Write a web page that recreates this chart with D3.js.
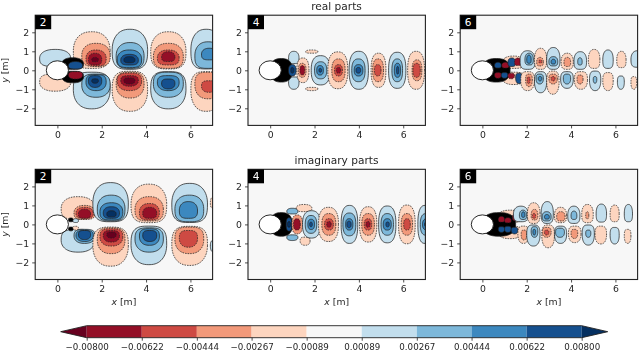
<!DOCTYPE html>
<html>
<head>
<meta charset="utf-8">
<script src="https://cdn.jsdelivr.net/npm/d3@7"></script>
<style>
  html, body { margin: 0; padding: 0; background: #fff; }
  svg { display: block; filter: blur(0.5px); }
  text { font-family: "DejaVu Sans", sans-serif; fill: #262626; }
</style>
</head>
<body>
<div id="chart"></div>
<script>
const LEVELS = [-0.008, -0.00622, -0.00444, -0.00267, -0.00089, 0.00089, 0.00267, 0.00444, 0.00622, 0.008];
const LEVEL_LABELS = ["−0.00800", "−0.00622", "−0.00444", "−0.00267", "−0.00089", "0.00089", "0.00267", "0.00444", "0.00622", "0.00800"];
const BAND_COLORS = ["#940f27", "#ce4a43", "#f2997a", "#fdd5bf", "#f7f7f7", "#c2deed", "#7db8da", "#3c88bf", "#15508f"];
const EXTEND_COLORS = ["#67001f", "#053061"];
const REDS = ["#fdd5bf", "#f2997a", "#ce4a43", "#940f27", "#67001f"];
const BLUES = ["#c2deed", "#7db8da", "#3c88bf", "#15508f", "#053061"];
const X_TICKS = [0, 2, 4, 6];
const Y_TICKS = [-2, -1, 0, 1, 2];

// contour rings: [signed level, xMin, xMax, yMin, yMax]
// negative level = red, positive = blue, 0 = the black mess of tight contours
const REAL_2_TOP = [
  [1, -0.8, 0.6, 0.2, 1.1],
  [-1, 0.72, 2.38, 0.1, 2.03], [-2, 1.1, 2.38, 0.2, 1.42], [-3, 1.29, 2.2, 0.23, 1.07], [-4, 1.4, 2, 0.28, 0.9], [-5, 1.55, 1.85, 0.45, 0.68],
  [1, 2.47, 4.07, 0.05, 2.16], [2, 2.65, 3.91, 0.1, 1.46], [3, 2.7, 3.8, 0.14, 1.07], [4, 2.86, 3.65, 0.28, 0.84], [5, 3, 3.5, 0.4, 0.72],
  [-1, 4.21, 5.8, 0.07, 2.03], [-2, 4.33, 5.68, 0.1, 1.42], [-3, 4.51, 5.49, 0.28, 1.07], [-4, 4.7, 5.3, 0.46, 0.98],
  [1, 6.02, 7.4, 0.07, 2.16], [2, 6.2, 7.4, 0.1, 1.5], [3, 6.5, 7.2, 0.55, 1.16],
  [0, 0.2, 1.18, 0.05, 0.66], [4, 0.5, 1.14, 0.07, 0.46]
];
const REAL_4 = [
  [1, 0.83, 1.3, 0.35, 1], [1, 0.83, 1.3, -1, -0.35],
  [0, 0, 1, -0.62, 0.62],
  [4, 0.83, 1.17, -0.3, 0.3], [5, 0.93, 1.07, -0.15, 0.15],
  [-1, 1.2, 1.75, -0.65, 0.65], [-2, 1.27, 1.62, -0.37, 0.37], [-4, 1.34, 1.56, -0.25, 0.25],
  [-1, 1.6, 2.15, 0.9, 1.07], [-1, 1.6, 2.15, -1.07, -0.9],
  [1, 1.85, 2.7, -0.77, 0.77], [2, 2, 2.55, -0.45, 0.45], [3, 2.1, 2.4, -0.25, 0.25], [4, 2.2, 2.32, -0.1, 0.1],
  [-1, 2.6, 3.5, -0.97, 0.97], [-2, 2.78, 3.38, -0.6, 0.6], [-3, 2.9, 3.26, -0.3, 0.3], [-4, 2.98, 3.18, -0.15, 0.15],
  [1, 3.56, 4.43, -1, 1], [2, 3.68, 4.28, -0.6, 0.6], [3, 3.79, 4.18, -0.3, 0.3], [4, 3.87, 4.08, -0.15, 0.15],
  [-1, 4.55, 5.22, -0.9, 0.9], [-2, 4.62, 5.11, -0.6, 0.6], [-3, 4.7, 5, -0.3, 0.3],
  [1, 5.34, 6.12, -0.95, 0.95], [2, 5.49, 5.97, -0.6, 0.6], [3, 5.6, 5.88, -0.37, 0.37], [4, 5.7, 5.8, -0.2, 0.2],
  [-1, 6.2, 6.96, -1, 1], [-2, 6.4, 6.84, -0.55, 0.55], [-3, 6.44, 6.77, -0.37, 0.37]
];
const REAL_6 = [
  [-1, 0.9, 1.9, 0.1, 0.75], [-1, 0.9, 1.9, -0.75, -0.1],
  [0, 0, 1.25, -0.62, 0.62],
  [4, 0.55, 0.85, 0.12, 0.42], [-4, 0.88, 1.2, 0.12, 0.42], [4, 1.15, 1.5, 0.2, 0.65], [-4, 1.45, 1.75, 0.25, 0.65],
  [-4, 0.55, 0.85, -0.42, -0.12], [4, 0.85, 1.15, -0.42, -0.12], [-4, 1.15, 1.45, -0.45, -0.15], [4, 1.5, 1.8, -0.7, -0.15],
  [1, 1.7, 2.38, 0.05, 1.03], [2, 1.92, 2.3, 0.28, 0.9], [3, 2, 2.2, 0.37, 0.8],
  [-1, 2.35, 2.9, 0.05, 1.16], [-2, 2.45, 2.75, 0.23, 0.68], [-3, 2.55, 2.68, 0.38, 0.55],
  [1, 2.9, 3.5, 0.05, 1.2], [2, 3, 3.4, 0.23, 0.72], [3, 3.1, 3.3, 0.33, 0.58],
  [-1, 3.55, 4.1, 0.05, 0.9], [-2, 3.68, 3.98, 0.2, 0.68],
  [1, 4.13, 4.7, 0.05, 0.98], [2, 4.3, 4.5, 0.28, 0.66],
  [-1, 4.78, 5.3, 0.1, 1.1], [1, 5.43, 5.9, 0.1, 1.07], [-1, 6.06, 6.48, 0.14, 1], [1, 6.7, 7.3, 0.16, 1.03],
  [-1, 1.73, 2.35, -1.07, -0.07], [-2, 1.95, 2.25, -0.86, -0.2], [-3, 2.02, 2.15, -0.7, -0.35],
  [1, 2.35, 2.9, -1.18, -0.07], [2, 2.42, 2.75, -0.72, -0.2], [3, 2.52, 2.68, -0.56, -0.33],
  [-1, 2.9, 3.46, -1.26, -0.04], [-2, 3, 3.38, -0.72, -0.2], [-3, 3.1, 3.28, -0.56, -0.33],
  [1, 3.53, 4.1, -0.95, -0.07], [2, 3.65, 3.98, -0.72, -0.2],
  [-1, 4.15, 4.74, -1, -0.07], [-2, 4.27, 4.54, -0.72, -0.25],
  [1, 4.83, 5.34, -1.07, -0.04], [2, 5, 5.16, -0.68, -0.33],
  [-1, 5.43, 5.9, -1.07, -0.12], [1, 6.09, 6.4, -1, -0.3], [-1, 6.7, 6.96, -1, -0.33]
];
const IMAG_2_TOP = [
  [-1, 0.17, 1.7, 0.26, 1.46], [-2, 0.75, 1.7, 0.26, 1], [-3, 0.84, 1.62, 0.32, 0.9], [-4, 0.95, 1.5, 0.32, 0.8],
  [1, 1.6, 3.2, 0.14, 2.2], [2, 1.8, 3.05, 0.18, 1.54], [3, 1.92, 2.95, 0.23, 1.14], [4, 2.07, 2.8, 0.32, 0.93], [5, 2.23, 2.65, 0.4, 0.72],
  [-1, 3.32, 4.93, 0.09, 2.12], [-2, 3.5, 4.78, 0.18, 1.46], [-3, 3.7, 4.6, 0.23, 1.1], [-4, 3.85, 4.48, 0.32, 0.9],
  [1, 5.16, 6.77, 0.1, 2.16], [2, 5.3, 6.6, 0.14, 1.54], [3, 5.5, 6.32, 0.32, 1.2],
  [-1, 6.9, 7.2, 0.85, 1.46],
  [0, 0.5, 0.72, 0.14, 0.34], [1, 0.7, 0.95, 0.1, 0.3]
];
const IMAG_4 = [
  [-1, 1.17, 1.88, 0.67, 1.05], [-1, 1.35, 1.8, -1.1, -0.67],
  [2, 0.75, 1.25, 0.55, 0.85], [2, 0.75, 1.25, -0.85, -0.55],
  [0, 0, 1, -0.62, 0.62],
  [4, 0.72, 0.98, -0.35, 0.35], [5, 0.78, 0.92, -0.15, 0.15],
  [-2, 0.98, 1.46, -0.5, 0.5], [-4, 1.05, 1.36, -0.3, 0.3],
  [1, 1.46, 2.26, -0.72, 0.72], [2, 1.58, 2.1, -0.47, 0.47], [3, 1.7, 2, -0.27, 0.27], [4, 1.78, 1.9, -0.12, 0.12],
  [-1, 2.18, 3.08, -0.9, 0.9], [-2, 2.33, 2.96, -0.57, 0.57], [-3, 2.45, 2.85, -0.3, 0.3], [-4, 2.55, 2.75, -0.15, 0.15],
  [1, 3.2, 3.95, -1, 1], [2, 3.28, 3.86, -0.6, 0.6], [3, 3.4, 3.73, -0.3, 0.3], [4, 3.46, 3.65, -0.17, 0.17],
  [-1, 4.03, 4.81, -0.93, 0.93], [-2, 4.13, 4.7, -0.57, 0.57], [-3, 4.24, 4.58, -0.3, 0.3], [-4, 4.32, 4.5, -0.15, 0.15],
  [1, 4.89, 5.67, -0.97, 0.97], [2, 5, 5.56, -0.57, 0.57], [3, 5.1, 5.46, -0.3, 0.3], [4, 5.22, 5.37, -0.13, 0.13],
  [-1, 5.79, 6.54, -1.02, 1.02], [-2, 5.91, 6.42, -0.57, 0.57], [-3, 6.02, 6.32, -0.3, 0.3],
  [1, 6.66, 7.3, -1, 1], [2, 6.77, 7.3, -0.57, 0.57], [3, 6.87, 7.3, -0.3, 0.3], [4, 6.96, 7.3, -0.15, 0.15]
];
const IMAG_6 = [
  [-1, 0.7, 1.8, 0.1, 0.75], [-1, 0.7, 1.8, -0.75, -0.1],
  [0, 0, 1.5, -0.62, 0.62],
  [-4, 0.72, 1, 0.12, 0.42], [-4, 1, 1.3, 0.08, 0.35], [-4, 1.35, 1.65, 0.2, 0.55],
  [4, 0.72, 1, -0.42, -0.12], [4, 1, 1.3, -0.42, -0.1], [4, 1.3, 1.6, -0.5, -0.15],
  [1, 1.4, 2.07, 0.14, 0.96], [2, 1.67, 2, 0.26, 0.75], [3, 1.77, 1.92, 0.37, 0.66],
  [-1, 2.03, 2.6, 0.05, 1.14], [-2, 2.2, 2.5, 0.23, 0.79], [-3, 2.26, 2.4, 0.32, 0.58],
  [1, 2.65, 3.2, 0.05, 1.2], [2, 2.7, 3.1, 0.18, 0.67], [3, 2.8, 3.02, 0.28, 0.52],
  [-1, 3.25, 3.8, 0.09, 0.9], [-2, 3.35, 3.73, 0.18, 0.67],
  [1, 3.85, 4.4, 0.05, 0.96], [2, 4, 4.26, 0.26, 0.7],
  [-1, 4.48, 5, 0.09, 1.05], [-2, 4.66, 4.8, 0.3, 0.67],
  [1, 5.13, 5.6, 0.12, 1.07], [-1, 5.76, 6.17, 0.14, 1.02], [1, 6.4, 6.77, 0.14, 1.05],
  [-1, 1.6, 2.1, -1, -0.09], [-2, 1.75, 2, -0.82, -0.3],
  [1, 2, 2.6, -1.14, -0.03], [2, 2.2, 2.5, -0.68, -0.12], [3, 2.28, 2.4, -0.56, -0.26],
  [-1, 2.68, 3.25, -1.23, -0.03], [-2, 2.7, 3.1, -0.68, -0.16], [-3, 2.8, 3, -0.56, -0.3],
  [1, 3.25, 3.8, -1, -0.09], [2, 3.3, 3.7, -0.68, -0.2],
  [-1, 3.88, 4.45, -0.96, -0.09], [-2, 4, 4.3, -0.74, -0.26],
  [1, 4.5, 5.05, -1.09, -0.03], [2, 4.66, 4.89, -0.68, -0.3],
  [-1, 5.08, 5.6, -1.03, -0.09], [1, 5.76, 6.17, -1.03, -0.16], [-1, 6.4, 6.7, -1, -0.26]
];

// the two mode-2 panels are antisymmetric about y = 0, so only the top half is listed
function withMirror(rings) {
  const flipped = rings.map(([l, x0, x1, y0, y1]) => [l === 0 ? 0 : -l, x0, x1, -y1, -y0]);
  return rings.concat(flipped);
}

const PANELS = [
  { mode: 2, left: 35.2, top: 15.2, rings: withMirror(REAL_2_TOP), yLabel: true, xLabel: false },
  { mode: 4, left: 248, top: 15.2, rings: REAL_4, yLabel: false, xLabel: false },
  { mode: 6, left: 460.2, top: 15.2, rings: REAL_6, yLabel: false, xLabel: false },
  { mode: 2, left: 35.2, top: 169.3, rings: withMirror(IMAG_2_TOP), yLabel: true, xLabel: true },
  { mode: 4, left: 248, top: 169.3, rings: IMAG_4, yLabel: false, xLabel: true },
  { mode: 6, left: 460.2, top: 169.3, rings: IMAG_6, yLabel: false, xLabel: true },
];

const WIDTH = 640;
const HEIGHT = 352;
const PANEL_W = 177.4;
const PANEL_H = 110.2;
const FONT = 9.3;
const INK = "#222";

const svg = d3.select("#chart").append("svg").attr("width", WIDTH).attr("height", HEIGHT);
const x = d3.scaleLinear().domain([-1, 7]).range([0, PANEL_W]);
const y = d3.scaleLinear().domain([-2.9, 2.9]).range([PANEL_H, 0]);

const ringPath = d3.line().x((d) => x(d[0])).y((d) => y(d[1])).curve(d3.curveLinearClosed);

// lobes off the centreline are flat towards y = 0 and round away from it
function ringPoints(x0, x1, y0, y1) {
  const cx = (x0 + x1) / 2, cy = (y0 + y1) / 2, rx = (x1 - x0) / 2, ry = (y1 - y0) / 2;
  const offAxis = y0 * y1 >= 0;
  return d3.range(60).map((i) => {
    const a = (i / 60) * 2 * Math.PI;
    const c = Math.cos(a), s = Math.sin(a);
    const far = offAxis && Math.sign(s) === Math.sign(cy);
    const power = offAxis ? (far ? 2.4 : 3.2) : 2.5;
    const taper = far ? 1 - 0.07 * Math.abs(s) : 1;
    return [
      cx + taper * rx * Math.sign(c) * Math.pow(Math.abs(c), 2 / power),
      cy + ry * Math.sign(s) * Math.pow(Math.abs(s), 2 / power),
    ];
  });
}

function ringColor(level) {
  if (level === 0) return "#000";
  return level < 0 ? REDS[-level - 1] : BLUES[level - 1];
}

function drawPanel(p, i) {
  const g = svg.append("g").attr("transform", `translate(${p.left},${p.top})`);
  const clipId = `clip-${i}`;
  g.append("clipPath").attr("id", clipId).append("rect").attr("width", PANEL_W).attr("height", PANEL_H);
  g.append("rect").attr("width", PANEL_W).attr("height", PANEL_H).attr("fill", "#f7f7f7");

  const field = g.append("g").attr("clip-path", `url(#${clipId})`);
  field.selectAll("path").data(p.rings).join("path")
    .attr("d", (d) => ringPath(ringPoints(d[1], d[2], d[3], d[4])))
    .attr("fill", (d) => ringColor(d[0]))
    .attr("stroke", "#222")
    .attr("stroke-width", 0.75)
    .attr("stroke-dasharray", (d) => (d[0] < 0 ? "1.6 1" : null));

  // cylinder in the middle of the wake
  field.append("ellipse")
    .attr("cx", x(0)).attr("cy", y(0))
    .attr("rx", x(0.5) - x(0)).attr("ry", y(0) - y(0.5))
    .attr("fill", "#fff").attr("stroke", "#111").attr("stroke-width", 0.9);

  const xAxis = d3.axisBottom(x).tickValues(X_TICKS).tickFormat(d3.format("d")).tickSize(3).tickPadding(3);
  const yAxis = d3.axisLeft(y).tickValues(Y_TICKS).tickFormat(d3.format("d")).tickSize(3).tickPadding(3);
  [g.append("g").attr("transform", `translate(0,${PANEL_H})`).call(xAxis), g.append("g").call(yAxis)].forEach((a) => {
    a.select(".domain").remove();
    a.selectAll("line").attr("stroke", INK).attr("stroke-width", 0.8);
    a.selectAll("text").attr("font-size", FONT).attr("font-family", null);
  });

  g.append("rect").attr("width", PANEL_W).attr("height", PANEL_H)
    .attr("fill", "none").attr("stroke", INK).attr("stroke-width", 1.1);

  // mode badge in the corner
  g.append("rect").attr("width", 16).attr("height", 14).attr("fill", "#000");
  g.append("text").attr("x", 8).attr("y", 11).attr("text-anchor", "middle")
    .attr("font-size", 10.5).style("fill", "#fff").text(p.mode);

  if (p.yLabel) {
    const label = g.append("text")
      .attr("transform", `translate(${-27},${PANEL_H / 2}) rotate(-90)`)
      .attr("text-anchor", "middle").attr("font-size", FONT);
    label.append("tspan").attr("font-style", "italic").text("y");
    label.append("tspan").text(" [m]");
  }
  if (p.xLabel) {
    const label = g.append("text")
      .attr("x", PANEL_W / 2).attr("y", PANEL_H + 26)
      .attr("text-anchor", "middle").attr("font-size", FONT);
    label.append("tspan").attr("font-style", "italic").text("x");
    label.append("tspan").text(" [m]");
  }
}

PANELS.forEach(drawPanel);

svg.append("text").attr("x", 336.5).attr("y", 10).attr("text-anchor", "middle").attr("font-size", 10.6).text("real parts");
svg.append("text").attr("x", 336.5).attr("y", 164).attr("text-anchor", "middle").attr("font-size", 10.6).text("imaginary parts");

function drawColorbar() {
  const cbX = d3.scaleLinear().domain([LEVELS[0], LEVELS[LEVELS.length - 1]]).range([86.7, 581.7]);
  const top = 325.7, h = 12, tip = 26;
  const g = svg.append("g");
  g.selectAll("rect.band").data(BAND_COLORS).join("rect").attr("class", "band")
    .attr("x", (_d, i) => cbX(LEVELS[i]))
    .attr("width", (_d, i) => cbX(LEVELS[i + 1]) - cbX(LEVELS[i]))
    .attr("y", top).attr("height", h)
    .attr("fill", (d) => d);

  const leftEnd = cbX(LEVELS[0]), rightEnd = cbX(LEVELS[LEVELS.length - 1]);
  const triangle = d3.line();
  g.append("path").attr("d", triangle([[leftEnd, top], [leftEnd - tip, top + h / 2], [leftEnd, top + h]]) + "Z").attr("fill", EXTEND_COLORS[0]);
  g.append("path").attr("d", triangle([[rightEnd, top], [rightEnd + tip, top + h / 2], [rightEnd, top + h]]) + "Z").attr("fill", EXTEND_COLORS[1]);
  g.append("path")
    .attr("d", triangle([[leftEnd, top], [rightEnd, top], [rightEnd + tip, top + h / 2], [rightEnd, top + h], [leftEnd, top + h], [leftEnd - tip, top + h / 2]]) + "Z")
    .attr("fill", "none").attr("stroke", INK).attr("stroke-width", 0.9);

  const axis = d3.axisBottom(cbX).tickValues(LEVELS).tickFormat((_d, i) => LEVEL_LABELS[i]).tickSize(3).tickPadding(3.5);
  const a = g.append("g").attr("transform", `translate(0,${top + h})`).call(axis);
  a.select(".domain").remove();
  a.selectAll("line").attr("stroke", INK).attr("stroke-width", 0.8);
  a.selectAll("text").attr("font-size", 8.7).attr("font-family", null);
}

drawColorbar();
</script>
</body>
</html>
